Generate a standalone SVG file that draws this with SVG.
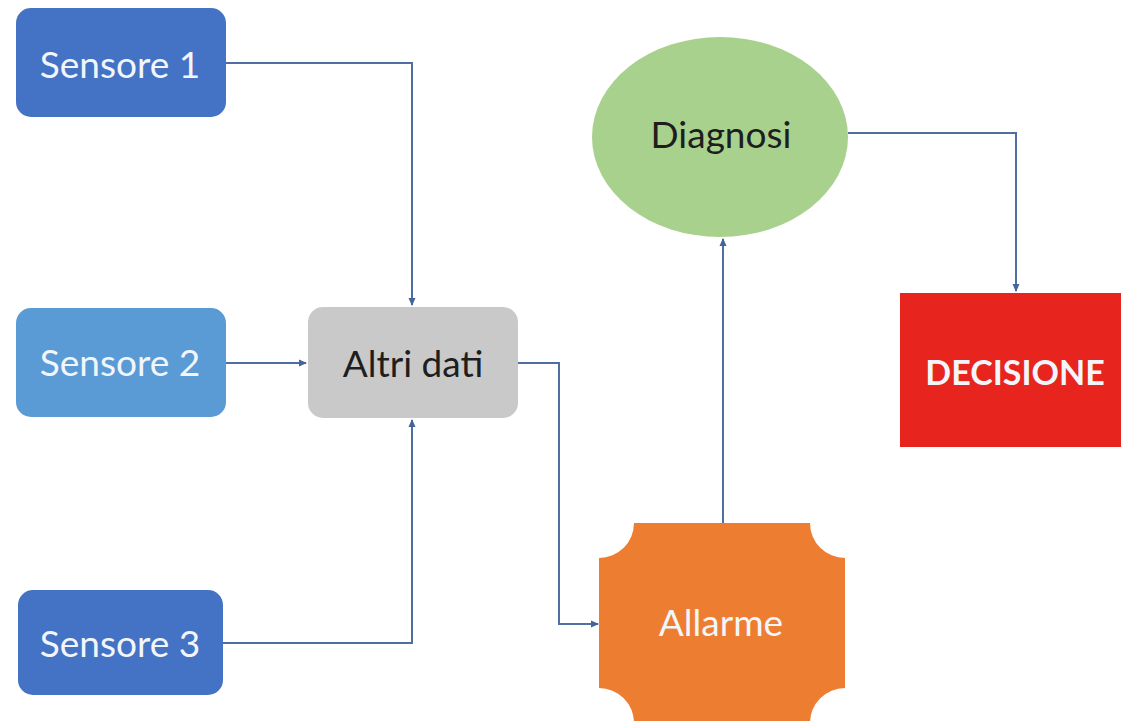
<svg xmlns="http://www.w3.org/2000/svg" width="1121" height="721" viewBox="0 0 1121 721">
<style>
.lbl{font-family:Lato,"Open Sans","Liberation Sans",sans-serif;font-size:37px;text-anchor:middle}
.w{fill:#f2f6fb}
.d{fill:#1e1e1e}
.conn{fill:none;stroke:#4f6fa3;stroke-width:2}
</style>
<defs>
<marker id="ah" markerWidth="8" markerHeight="8" refX="7" refY="4" orient="auto" markerUnits="userSpaceOnUse">
<path d="M0,0.5 L8,4 L0,7.5 Z" fill="#44649a"/>
</marker>
</defs>
<rect width="1121" height="721" fill="#ffffff"/>
<g id="connectors">
<path class="conn" d="M226,63 H412 V305" marker-end="url(#ah)"/>
<path class="conn" d="M226,363 H306" marker-end="url(#ah)"/>
<path class="conn" d="M223,643 H412 V420" marker-end="url(#ah)"/>
<path class="conn" d="M518,363 H559 V624 H598" marker-end="url(#ah)"/>
<path class="conn" d="M723,523 V239" marker-end="url(#ah)"/>
<path class="conn" d="M848,133 H1016 V291" marker-end="url(#ah)"/>
</g>
<g id="sensore1">
<rect x="16" y="8" width="210" height="109" rx="15" fill="#4472c4"/>
<text class="lbl w" x="120" y="78">Sensore 1</text>
</g>
<g id="sensore2">
<rect x="16" y="308" width="210" height="109" rx="15" fill="#5b9bd5"/>
<text class="lbl w" x="120" y="376">Sensore 2</text>
</g>
<g id="sensore3">
<rect x="18" y="590" width="205" height="105" rx="15" fill="#4472c4"/>
<text class="lbl w" x="120" y="657">Sensore 3</text>
</g>
<g id="altri-dati">
<rect x="308" y="307" width="210" height="111" rx="15" fill="#c9c9c9"/>
<text class="lbl d" x="413" y="377">Altri dati</text>
</g>
<g id="allarme">
<path d="M634,523 H810 A35,35 0 0 0 845,558 V688 A35,35 0 0 0 810,723 H634 A35,35 0 0 0 599,688 V558 A35,35 0 0 0 634,523 Z" fill="#ed7d31"/>
<text class="lbl w" x="721" y="636">Allarme</text>
</g>
<g id="diagnosi">
<ellipse cx="720" cy="137" rx="128" ry="100" fill="#a9d18e"/>
<text class="lbl d" x="721" y="148">Diagnosi</text>
</g>
<g id="decisione">
<rect x="900" y="293" width="230" height="154" fill="#e8241e"/>
<text class="lbl w" x="1015" y="385" style="font-weight:bold;font-size:34px">DECISIONE</text>
</g>
</svg>
